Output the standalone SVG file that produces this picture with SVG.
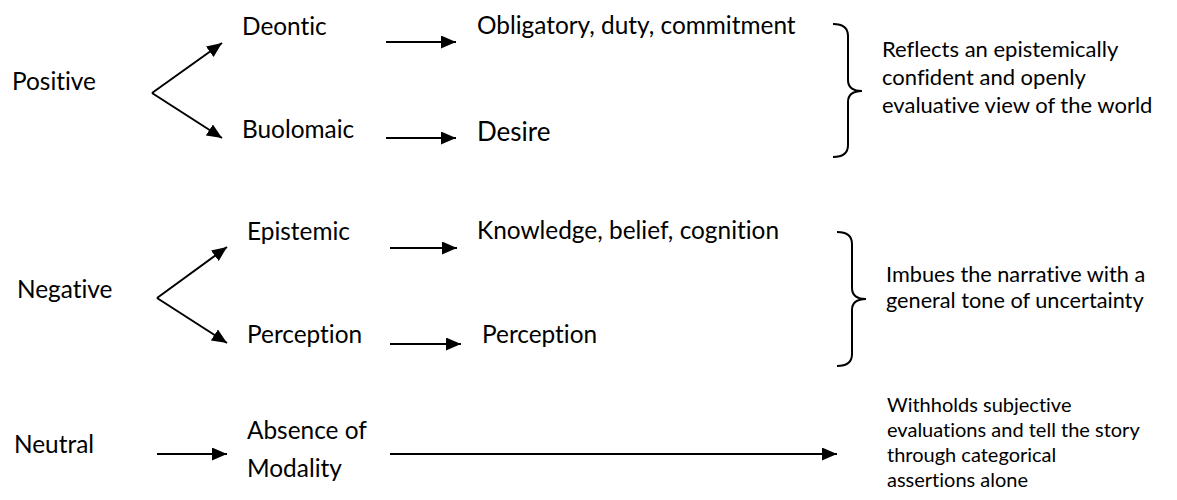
<svg xmlns="http://www.w3.org/2000/svg" width="1177" height="500" viewBox="0 0 1177 500">
  <style>
    text { font-variant-ligatures: none; font-feature-settings: "liga" 0; }
    .t { font-family: Lato, "Open Sans", sans-serif; font-size: 24.4px; fill: #000; }
    .big { font-size: 26px; }
    .s1 { font-family: Lato, "Open Sans", sans-serif; font-size: 22px; fill: #000; }
    .s2 { font-family: Lato, "Open Sans", sans-serif; font-size: 21.7px; fill: #000; }
    .s3 { font-family: Lato, "Open Sans", sans-serif; font-size: 20px; fill: #000; }
    .c { stroke: #000; stroke-width: 2; fill: none; }
    .a { marker-end: url(#ah); }
  </style>
  <defs>
    <marker id="ah" markerUnits="userSpaceOnUse" markerWidth="16" markerHeight="14" refX="15" refY="6.5" orient="auto" viewBox="0 0 16 14">
      <path d="M0,0 L15,6.5 L0,13 Z" fill="#000"/>
    </marker>
  </defs>
  <rect width="1177" height="500" fill="#fff"/>

  <g id="connectors">
    <path class="c a" d="M152,93 L222,43"/>
    <path class="c a" d="M152,93 L222,138"/>
    <path class="c a" d="M386,42 L456,42"/>
    <path class="c a" d="M386,138 L456,138"/>
    <path class="c a" d="M157,298 L227,247"/>
    <path class="c a" d="M157,298 L227,343"/>
    <path class="c a" d="M390,248 L457,248"/>
    <path class="c a" d="M390,344 L461,344"/>
    <path class="c a" d="M157,454 L227,454"/>
    <path class="c a" d="M390,454 L837,454"/>
  </g>

  <g id="braces">
    <path class="c" d="M833,24 C843,24 848,28 848,36 L848,80 C848,87 853,91 862,91 C853,91 848,95 848,102 L848,145 C848,153 843,157 833,157"/>
    <path class="c" d="M837,232 C847,232 852,236 852,244 L852,288 C852,295 857,299 866,299 C857,299 852,303 852,310 L852,354 C852,362 847,366 837,366"/>
  </g>

  <g id="positive"><text class="t" x="12" y="90">Positive</text></g>
  <g id="deontic"><text class="t" x="242" y="35">Deontic</text></g>
  <g id="buolomaic"><text class="t" x="242" y="138">Buolomaic</text></g>
  <g id="obligatory"><text class="t" x="477" y="34">Obligatory, duty, commitment</text></g>
  <g id="desire"><text class="t big" x="477" y="141">Desire</text></g>
  <g id="reflects">
    <text class="s1" x="882" y="57">Reflects an epistemically</text>
    <text class="s1" x="882" y="85">confident and openly</text>
    <text class="s1" x="882" y="113">evaluative view of the world</text>
  </g>

  <g id="negative"><text class="t" x="17" y="298">Negative</text></g>
  <g id="epistemic"><text class="t" x="247" y="240">Epistemic</text></g>
  <g id="perception-type"><text class="t" x="247" y="343">Perception</text></g>
  <g id="knowledge"><text class="t" x="477" y="239">Knowledge, belief, cognition</text></g>
  <g id="perception"><text class="t" x="482" y="343">Perception</text></g>
  <g id="imbues">
    <text class="s2" x="886" y="282">Imbues the narrative with a</text>
    <text class="s2" x="886" y="308">general tone of uncertainty</text>
  </g>

  <g id="neutral"><text class="t" x="14" y="453">Neutral</text></g>
  <g id="absence">
    <text class="t" x="247" y="439">Absence of</text>
    <text class="t" x="247" y="477">Modality</text>
  </g>
  <g id="withholds">
    <text class="s3" x="887" y="412">Withholds subjective</text>
    <text class="s3" x="887" y="437">evaluations and tell the story</text>
    <text class="s3" x="887" y="462">through categorical</text>
    <text class="s3" x="887" y="487">assertions alone</text>
  </g>
</svg>
